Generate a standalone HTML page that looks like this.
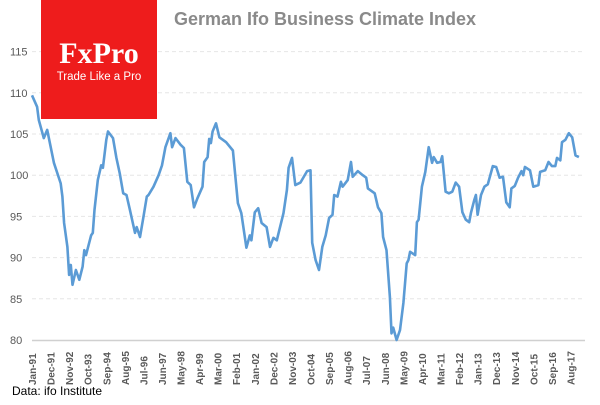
<!DOCTYPE html>
<html><head><meta charset="utf-8"><style>
body{margin:0;background:#fff;}
svg text{font-family:"Liberation Sans",sans-serif;}
</style></head><body>
<svg id="chart" width="600" height="400" viewBox="0 0 600 400" xmlns="http://www.w3.org/2000/svg">
<rect width="600" height="400" fill="#fff"/>
<g id="grid"></g>
<g id="ylabels"></g>
<g id="xlabels"></g>
<line x1="32" y1="340.5" x2="585" y2="340.5" stroke="#d0d0d0" stroke-width="1.5"/>
<path id="series" fill="none" stroke="#5b9bd5" stroke-width="2.6" stroke-linejoin="round"/>
<g>
<rect x="41" y="0" width="116" height="119" fill="#ee1c1c"/>
<text x="99" y="63" text-anchor="middle" fill="#fff" font-size="30" font-weight="bold" style="font-family:'Liberation Serif',serif">FxPro</text>
<text x="99" y="80" text-anchor="middle" fill="#fff" font-size="11.5">Trade Like a Pro</text>
</g>
<text x="325" y="25" text-anchor="middle" fill="#8a8a8a" font-size="18" font-weight="bold">German  Ifo Business  Climate  Index</text>
<text x="12" y="395" fill="#000" font-size="12">Data: ifo Institute</text>
</svg>
<script>
const yTicks=[80,85,90,95,100,105,110,115];
const xTickLabels=["Jan-91","Dec-91","Nov-92","Oct-93","Sep-94","Aug-95","Jul-96","Jun-97","May-98","Apr-99","Mar-00","Feb-01","Jan-02","Dec-02","Nov-03","Oct-04","Sep-05","Aug-06","Jul-07","Jun-08","May-09","Apr-10","Mar-11","Feb-12","Jan-13","Dec-13","Nov-14","Oct-15","Sep-16","Aug-17"];
const monthIdx=[0,3,4,7,9,13,17,18,19,21,22,23,24,26,28,30,31,32,35,36,37,39,41,42,44,45,48,50,52,54,56,58,61,62,64,66,68,69,72,75,77,79,82,83,85,88,90,92,94,96,98,101,102,104,105,106,107,109,111,115,119,122,124,127,129,130,132,134,136,139,141,143,145,149,151,152,154,156,159,163,165,166,168,170,172,174,176,178,179,181,183,184,187,189,190,193,196,198,199,203,205,207,208,210,212,213,214,216,218,220,222,223,224,227,228,229,231,233,235,237,238,240,242,243,245,247,249,251,253,255,257,259,260,262,263,264,266,268,270,273,275,277,279,281,283,284,286,288,290,291,292,295,297,300,301,304,306,308,310,311,313,314,316,318,320,322,324];
const values=[109.7,108.3,106.7,104.5,105.5,101.5,99,97.4,94.2,91.3,87.9,89.1,86.7,88.5,87.3,88.9,90.9,90.3,92.7,93,95.8,99.4,101.2,100.9,104.3,105.3,104.5,102.1,100.2,97.8,97.6,95.8,93,93.7,92.5,94.9,97.4,97.6,98.6,100,101.2,103.4,105.1,103.4,104.5,103.7,103.3,99.2,98.8,96.1,97.2,98.6,101.6,102.2,104.4,103.9,105.3,106.3,104.6,104,103,96.6,95.4,91.2,92.7,92.1,95.5,96,94.2,93.7,91.3,92.4,92.1,95.4,98.2,100.9,102.1,98.8,99.1,100.5,100.6,91.8,89.7,88.5,91.3,92.7,94.8,95.2,97.6,97.4,99.2,98.6,99.4,101.6,99.8,100.5,100,99.7,98.4,97.8,96.1,95.4,92.5,90.9,85.2,80.8,81.5,80,81.2,84.5,89.3,89.7,90.7,90.3,94.3,94.6,98.6,100.4,103.4,101.5,102.2,101.5,101.6,102.3,98,97.8,98,99.1,98.6,95.5,94.6,94.3,95.4,97,97.6,95.2,97.6,98.6,98.9,101.1,101,99.7,99.8,96.7,96.1,98.4,98.7,99.7,100.5,100,101,100.6,98.6,98.8,100.4,100.6,101.6,101.1,101.1,102.1,101.8,104,104.3,105.1,104.6,102.4,102.2];
const X0=32,PX=1.688,Y0=340,PY=8.24;
const xs=m=>X0+m*PX, ys=v=>Y0-(v-80)*PY;
const NS="http://www.w3.org/2000/svg";
const grid=document.getElementById('grid'),yl=document.getElementById('ylabels'),xl=document.getElementById('xlabels');
yTicks.forEach(t=>{
 if(t>80){const l=document.createElementNS(NS,'line');
 l.setAttribute('x1',32);l.setAttribute('x2',585);l.setAttribute('y1',ys(t));l.setAttribute('y2',ys(t));
 l.setAttribute('stroke','#e6e6e6');l.setAttribute('stroke-dasharray','4,3');
 
 
 grid.appendChild(l);}
 const tx=document.createElementNS(NS,'text');
 tx.setAttribute('x',10);tx.setAttribute('y',ys(t)+4);tx.setAttribute('font-size','11');tx.setAttribute('fill','#595959');
 tx.textContent=t;
 
 
 yl.appendChild(tx);
});
xTickLabels.forEach((s,i)=>{
 const x=xs(i*11)+4;
 const tx=document.createElementNS(NS,'text');
 tx.setAttribute('transform','translate('+x+',385) rotate(-90)');
 tx.setAttribute('font-size','10');tx.setAttribute('font-weight','bold');tx.setAttribute('fill','#595959');
 tx.textContent=s;
 
 
 xl.appendChild(tx);
});
document.getElementById('series').setAttribute('d',monthIdx.map((m,i)=>(i?'L':'M')+xs(m).toFixed(1)+','+ys(values[i]).toFixed(1)).join(''));
</script>
</body></html>
